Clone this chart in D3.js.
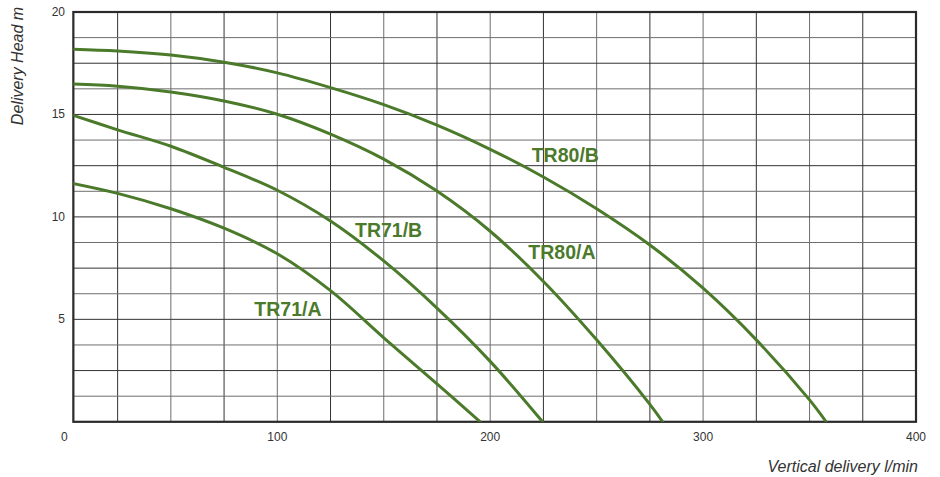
<!DOCTYPE html>
<html>
<head>
<meta charset="utf-8">
<script src="https://cdn.jsdelivr.net/npm/d3@7"></script>
<style>
  body { margin: 0; background: #fff; }
  svg { display: block; font-family: "Liberation Sans", Arial, sans-serif; }
</style>
</head>
<body>
<svg id="chart" width="940" height="477"></svg>
<script>
// pump curves (flow l/min, head m)
const tr80b = [[0, 18.2], [25, 18.1], [50, 17.9], [75, 17.55], [100, 17.03], [125, 16.31], [150, 15.48], [175, 14.48], [200, 13.3], [225, 11.95], [250, 10.4], [275, 8.63], [300, 6.52], [325, 4.0], [350, 1.07], [357.8, 0]];
const tr80a = [[0, 16.5], [25, 16.38], [50, 16.1], [75, 15.66], [100, 15.01], [125, 14.04], [150, 12.82], [175, 11.26], [200, 9.3], [225, 6.85], [250, 4.0], [275, 0.85], [281, 0]];
const tr71b = [[0, 15.1], [25, 14.25], [50, 13.45], [75, 12.42], [100, 11.3], [125, 9.8], [150, 7.85], [175, 5.55], [200, 2.95], [224.6, 0]];
const tr71a = [[0, 11.72], [25, 11.15], [50, 10.4], [75, 9.45], [100, 8.2], [125, 6.4], [150, 4.1], [175, 1.85], [195.3, 0]];

const seriesNames = ["TR80/B", "TR80/A", "TR71/B", "TR71/A"];
const seriesData = [tr80b, tr80a, tr71b, tr71a];
// label anchor (left, baseline) in data units
const labelPos = [[219.5, 12.67], [217.9, 7.95], [136.5, 9.01], [89.2, 5.17]];

const xTicks = [0, 100, 200, 300, 400];
const yTicks = [5, 10, 15, 20];
const xGrid = d3.range(25, 400, 25);
const yGrid = d3.range(1.25, 20, 1.25);
const xStart = 4.2; // frame starts a bit right of 0

const green = "#4b7a2b";

const svg = d3.select("#chart");
const x = d3.scaleLinear().domain([0, 400]).range([64.4, 916]);
const y = d3.scaleLinear().domain([0, 20]).range([421.8, 12]);

const pLeft = x(xStart), pRight = x(400), pTop = y(20), pBottom = y(0);

svg.append("clipPath").attr("id", "plot")
  .append("rect")
  .attr("x", pLeft).attr("y", pTop)
  .attr("width", pRight - pLeft).attr("height", pBottom - pTop);

// grid
const grid = svg.append("g");
grid.selectAll(".vg").data(xGrid).join("line")
  .attr("x1", d => x(d)).attr("x2", d => x(d))
  .attr("y1", pTop).attr("y2", pBottom)
  .attr("stroke", (d, i) => i % 2 ? "#6e6e6e" : "#333")
  .attr("stroke-width", 1);
grid.selectAll(".hg").data(yGrid).join("line")
  .attr("x1", pLeft).attr("x2", pRight)
  .attr("y1", d => y(d)).attr("y2", d => y(d))
  .attr("stroke", (d, i) => i % 2 ? "#333" : "#6e6e6e")
  .attr("stroke-width", 1);

// frame
svg.append("rect")
  .attr("x", pLeft).attr("y", pTop)
  .attr("width", pRight - pLeft).attr("height", pBottom - pTop)
  .attr("fill", "none")
  .attr("stroke", "#2a2a2a")
  .attr("stroke-width", 2.2);

// curves
const line = d3.line()
  .x(d => x(d[0]))
  .y(d => y(d[1]))
  .curve(d3.curveCatmullRom.alpha(0.5));

svg.append("g").attr("clip-path", "url(#plot)")
  .selectAll("path").data(seriesData).join("path")
  .attr("d", line)
  .attr("fill", "none")
  .attr("stroke", green)
  .attr("stroke-width", 3)
  .attr("stroke-linecap", "round");

// curve labels
svg.selectAll(".lbl").data(seriesNames).join("text")
  .attr("x", (d, i) => x(labelPos[i][0]))
  .attr("y", (d, i) => y(labelPos[i][1]))
  .attr("fill", green)
  .attr("font-weight", "bold")
  .attr("font-size", "19.5px")
  .text(d => d);

// tick labels
svg.selectAll(".xt").data(xTicks).join("text")
  .attr("x", d => x(d))
  .attr("y", 441)
  .attr("text-anchor", "middle")
  .attr("font-size", "12px")
  .attr("fill", "#333")
  .text(d => d);

svg.selectAll(".yt").data(yTicks).join("text")
  .attr("x", 65)
  .attr("y", d => y(d) + 4)
  .attr("text-anchor", "end")
  .attr("font-size", "12px")
  .attr("fill", "#333")
  .text(d => d);

// axis titles
svg.append("text")
  .attr("transform", "translate(23,66) rotate(-90)")
  .attr("text-anchor", "middle")
  .attr("font-style", "italic")
  .attr("font-size", "16px")
  .attr("fill", "#333")
  .text("Delivery Head m");

svg.append("text")
  .attr("x", 918)
  .attr("y", 472)
  .attr("text-anchor", "end")
  .attr("font-style", "italic")
  .attr("font-size", "16px")
  .attr("fill", "#333")
  .text("Vertical delivery l/min");
</script>
</body>
</html>
